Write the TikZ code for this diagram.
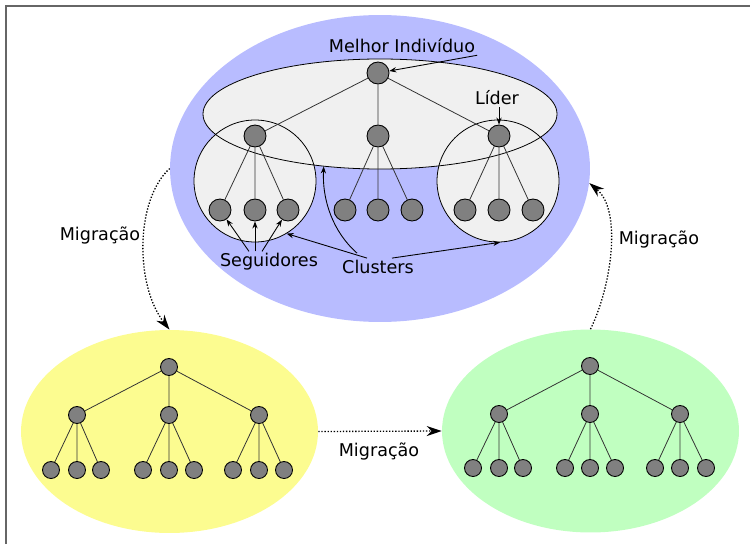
\documentclass[tikz,border=0pt]{standalone}
\usepackage{fontspec}
\setmainfont{DejaVu Sans}
\usetikzlibrary{positioning, arrows.meta, calc, shapes.geometric}

\definecolor{ilhaazul}{RGB}{184,188,255}
\definecolor{ilhaamarela}{RGB}{252,252,144}
\definecolor{ilhaverde}{RGB}{192,255,192}
\definecolor{grupocinza}{RGB}{240,240,240}

\begin{document}
\begin{tikzpicture}[
    x=0.02cm, y=-0.02cm,
    >=Stealth,
    ilha/.style={
        ellipse, draw=none, inner sep=0pt
    },
    grupo/.style={
        circle, draw=black, line width=0.45pt, fill=grupocinza,
        minimum size=2.44cm, inner sep=0pt
    },
    ind/.style={
        circle, draw=black, fill=black!50, line width=0.5pt,
        minimum size=0.44cm, inner sep=0pt
    },
    indp/.style={ind, minimum size=0.34cm},
    ramo/.style={black!80, line width=0.45pt},
    rotulo/.style={font=\fontsize{10}{12}\selectfont, inner sep=1pt},
    seta/.style={black, line width=0.5pt, -{Stealth[length=4pt, width=3pt]}},
    migra/.style={black, line width=0.75pt, densely dotted,
        -{Stealth[length=0.3cm, width=0.2cm]}},
    moldura/.style={black!60, line width=1.1pt},
]
\useasboundingbox (0,0) rectangle (750,544);

% Frame
\draw[moldura] (6,544) -- (6,6) -- (750,6);

% Main island: elite ellipse and the two clusters
\node[ilha, fill=ilhaazul, minimum width=8.4cm, minimum height=6.14cm] (ilhaA) at (380,168.5) {};
\node[ilha, fill=grupocinza, minimum width=7.08cm, minimum height=2.2cm] (elite) at (380,114) {};
\node[grupo] (grupoE) at (255,181) {};
\node[grupo] (grupoD) at (498,181) {};
\draw[line width=0.45pt] (elite.center) ellipse [x radius=177, y radius=55];

% Lower islands
\node[ilha, fill=ilhaamarela, minimum width=5.94cm, minimum height=4.06cm] (ilhaB) at (169.5,431.5) {};
\node[ilha, fill=ilhaverde, minimum width=5.94cm, minimum height=4.06cm] (ilhaC) at (590.5,431) {};

% Main tree
\node[ind] (mi) at (378,73) {};
\node[ind] (l1) at (255,136) {};
\node[ind] (l2) at (378,136) {};
\node[ind] (l3) at (499,136) {};
\node[ind] (s11) at (220,210) {};
\node[ind] (s12) at (255,210) {};
\node[ind] (s13) at (288,210) {};
\node[ind] (s21) at (345,210) {};
\node[ind] (s22) at (378,210) {};
\node[ind] (s23) at (412,210) {};
\node[ind] (s31) at (465,210) {};
\node[ind] (s32) at (499,210) {};
\node[ind] (s33) at (533,210) {};

\draw[ramo] (mi) -- (l1) (mi) -- (l2) (mi) -- (l3);
\draw[ramo] (l1) -- (s11) (l1) -- (s12) (l1) -- (s13);
\draw[ramo] (l2) -- (s21) (l2) -- (s22) (l2) -- (s23);
\draw[ramo] (l3) -- (s31) (l3) -- (s32) (l3) -- (s33);

% Yellow island tree
\node[indp] (b0) at (169,367) {};
\node[indp] (b1) at (77,415) {};
\node[indp] (b2) at (169,415) {};
\node[indp] (b3) at (259,415) {};
\node[indp] (b11) at (51,470) {};
\node[indp] (b12) at (77,470) {};
\node[indp] (b13) at (101,470) {};
\node[indp] (b21) at (143,470) {};
\node[indp] (b22) at (169,470) {};
\node[indp] (b23) at (194,470) {};
\node[indp] (b31) at (233,470) {};
\node[indp] (b32) at (259,470) {};
\node[indp] (b33) at (284,470) {};

\draw[ramo] (b0) -- (b1) (b0) -- (b2) (b0) -- (b3);
\draw[ramo] (b1) -- (b11) (b1) -- (b12) (b1) -- (b13);
\draw[ramo] (b2) -- (b21) (b2) -- (b22) (b2) -- (b23);
\draw[ramo] (b3) -- (b31) (b3) -- (b32) (b3) -- (b33);

% Green island tree
\node[indp] (c0) at (590,366) {};
\node[indp] (c1) at (499,414) {};
\node[indp] (c2) at (590,414) {};
\node[indp] (c3) at (680,414) {};
\node[indp] (c11) at (473,468) {};
\node[indp] (c12) at (499,468) {};
\node[indp] (c13) at (523,468) {};
\node[indp] (c21) at (565,468) {};
\node[indp] (c22) at (590,468) {};
\node[indp] (c23) at (615,468) {};
\node[indp] (c31) at (655,468) {};
\node[indp] (c32) at (680,468) {};
\node[indp] (c33) at (706,468) {};

\draw[ramo] (c0) -- (c1) (c0) -- (c2) (c0) -- (c3);
\draw[ramo] (c1) -- (c11) (c1) -- (c12) (c1) -- (c13);
\draw[ramo] (c2) -- (c21) (c2) -- (c22) (c2) -- (c23);
\draw[ramo] (c3) -- (c31) (c3) -- (c32) (c3) -- (c33);

% Labels
\node[rotulo] (melhorLbl) at (402,46) {Melhor Indivíduo};
\node[rotulo] (liderLbl) at (497,98) {Líder};
\node[rotulo] (segLbl) at (269,262) {Seguidores};
\node[rotulo] (clusLbl) at (378,267) {Clusters};

\draw[seta] (melhorLbl.south east) -- (mi);
\draw[seta] (liderLbl.south -| l3) -- (l3);
\draw[seta] ($(segLbl.north)+(-20,0)$) -- (s11);
\draw[seta] ($(segLbl.north)+(-14,0)$) -- (s12);
\draw[seta] ($(segLbl.north)+(-7,0)$) -- (s13);
\draw[seta] ($(clusLbl.north)+(-11,0)$) -- (grupoE.301);
\draw[seta] ($(clusLbl.north)+(-21,-5)$) .. controls (333,232) and (322,200) .. (elite.223);
\draw[seta] ($(clusLbl.north)+(14,0)$) -- (grupoD.272);

% Migration between islands
\node[rotulo] (migA) at (100,236) {Migração};
\node[rotulo] (migB) at (379,451) {Migração};
\node[rotulo] (migC) at (659,240) {Migração};

\draw[migra] (ilhaA.west) .. controls (135,200) and (135,285) .. (ilhaB.north);
\draw[migra] (ilhaB.east) -- (ilhaC.west);
\draw[migra] (ilhaC.north) .. controls (612,285) and (622,210) .. (ilhaA.356);

\end{tikzpicture}
\end{document}
